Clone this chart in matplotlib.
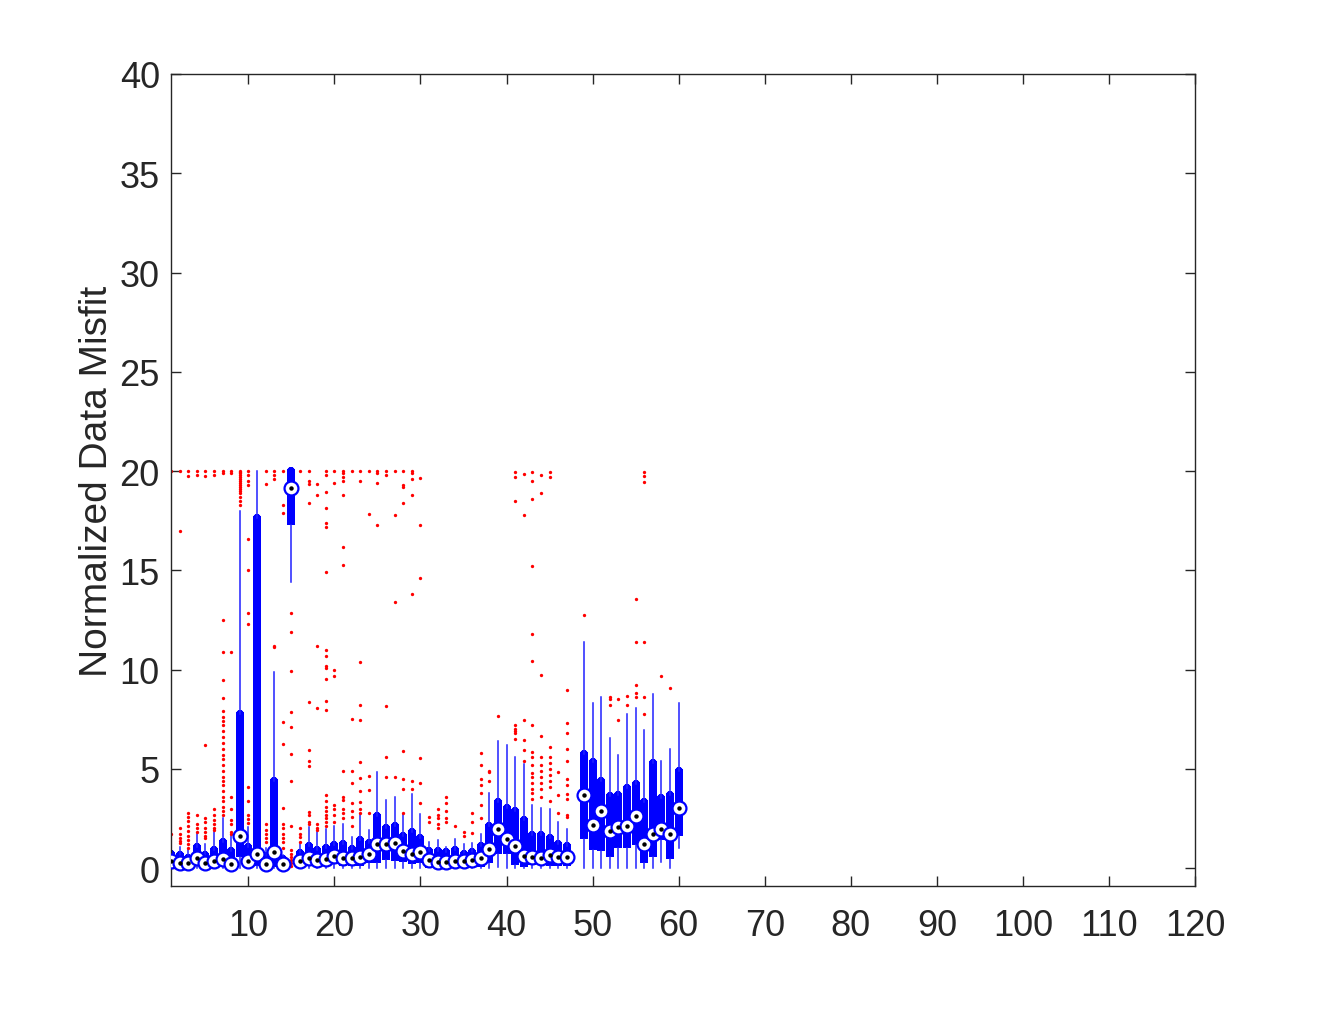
import matplotlib
matplotlib.use('Agg')
import matplotlib.pyplot as plt

plt.rcParams['font.family'] = ['Liberation Sans', 'DejaVu Sans']

# Box statistics (position 48 has no data)
positions = list(range(1, 48)) + list(range(49, 61))

medians = [0.37, 0.28, 0.28, 0.52, 0.25, 0.37, 0.45, 0.23, 1.60, 0.37,
           0.69, 0.23, 0.83, 0.23, 19.15, 0.37, 0.53, 0.41, 0.47, 0.62,
           0.52, 0.52, 0.57, 0.73, 1.20, 1.20, 1.29, 0.87, 0.70, 0.82,
           0.42, 0.32, 0.32, 0.37, 0.34, 0.39, 0.52, 0.96, 1.96, 1.49,
           1.12, 0.62, 0.57, 0.49, 0.67, 0.57, 0.57,
           3.69, 2.18, 2.88, 1.86, 2.09, 2.14, 2.63, 1.21, 1.74, 1.96, 1.74, 3.02]
q1 = [0.08, 0.05, 0.05, 0.10, 0.03, 0.08, 0.10, 0.03, 0.55, 0.10,
      0.10, 0.03, 0.05, 0.03, 17.28, 0.10, 0.12, 0.08, 0.10, 0.20,
      0.10, 0.12, 0.12, 0.25, 0.28, 0.42, 0.37, 0.32, 0.20, 0.28,
      0.03, 0.00, 0.02, 0.06, 0.06, 0.08, 0.08, 0.25, 0.70, 0.70,
      0.15, 0.07, 0.17, 0.20, 0.11, 0.11, 0.10,
      1.46, 0.92, 0.87, 0.58, 1.02, 0.99, 1.16, 0.28, 0.58, 1.42, 0.45, 1.62]
q3 = [0.70, 0.65, 0.50, 1.05, 0.65, 0.92, 1.30, 0.88, 7.75, 1.07,
      17.65, 0.60, 4.37, 0.45, 20.0, 0.75, 1.10, 0.92, 1.00, 1.17,
      1.20, 0.95, 1.40, 1.25, 2.63, 2.00, 2.13, 1.60, 1.83, 1.54,
      0.87, 0.84, 0.79, 0.90, 0.70, 0.79, 1.13, 2.10, 3.35, 3.03,
      2.87, 2.40, 1.66, 1.69, 1.51, 1.21, 1.09,
      5.74, 5.35, 4.38, 3.64, 3.66, 4.04, 4.23, 3.32, 5.29, 3.53, 3.66, 4.87]
whisker_lo = [0.0] * 14 + [14.4] + [0.0] * 23 + [0.07, 0.03] + [0.0] * 7 + \
             [0.03, 0.0, 0.0, 0.0, 0.0, 0.0, 0.0, 0.0, 0.0, 0.3, 0.0, 0.99]
whisker_hi = [1.2, 1.05, 0.9, 1.7, 1.2, 1.8, 2.5, 1.65, 18.0, 2.05,
              20.0, 1.0, 9.9, 0.65, 20.0, 1.2, 2.05, 1.8, 1.95, 2.1,
              2.2, 1.55, 2.67, 1.93, 4.85, 3.42, 3.6, 2.72, 3.73, 2.72,
              1.33, 1.4, 1.07, 1.45, 1.2, 1.25, 1.7, 3.78, 6.42, 6.2,
              5.62, 5.24, 3.17, 3.05, 2.97, 2.3, 1.96,
              11.4, 8.31, 8.64, 6.56, 5.72, 7.76, 8.04, 6.96, 8.77, 5.42, 6.0, 8.34]

outliers = [
    [1.7, 20.0],
    [2.0, 1.7, 1.5, 1.35, 1.25, 17.0, 20.0],
    [2.8, 2.6, 2.35, 2.1, 1.85, 1.6, 1.4, 1.2, 1.0, 20.0, 19.75],
    [2.7, 2.2, 2.0, 1.8, 20.0, 19.8],
    [2.5, 2.3, 2.0, 1.8, 1.6, 1.5, 6.2, 20.0, 19.75],
    [3.0, 2.7, 2.4, 2.2, 2.0, 1.9, 20.0, 19.8],
    [12.5, 10.9, 9.5, 8.55, 7.9, 7.6, 7.4, 7.2, 6.9, 6.6, 6.3, 6.0, 5.7, 5.5,
     5.2, 4.9, 4.6, 4.4, 4.2, 3.9, 3.6, 3.4, 3.1, 2.9, 2.7, 20.0, 19.9],
    [10.9, 3.6, 3.0, 2.4, 2.2, 1.8, 1.7, 20.0, 19.9],
    [20.0, 19.95, 19.9, 19.8, 19.7, 19.6, 19.5, 19.4, 19.3, 19.2, 19.1, 19.0,
     18.9, 18.7, 18.5, 18.3],
    [4.1, 3.4, 2.7, 2.45, 2.25, 16.6, 15.0, 12.85, 12.3, 20.0, 19.8, 19.5, 19.3],
    [],
    [2.2, 1.9, 1.7, 1.5, 1.3, 19.35, 20.0],
    [11.2, 11.15, 20.0, 19.8, 19.6],
    [3.05, 2.2, 2.0, 1.7, 1.5, 1.3, 1.0, 6.25, 7.35, 17.9, 18.3, 20.0],
    [12.85, 11.9, 9.95, 7.85, 7.1, 5.75, 4.4, 2.1, 0.9, 0.7, 0.55, 0.4, 0.25, 0.1],
    [2.0, 1.7, 1.55, 1.3, 20.0],
    [2.85, 2.7, 2.3, 2.2, 5.97, 5.4, 5.15, 8.35, 18.4, 19.35, 19.5, 20.0],
    [2.2, 2.0, 1.9, 8.05, 11.2, 18.8, 19.35],
    [3.7, 3.4, 3.1, 2.9, 2.7, 2.5, 2.3, 2.1, 7.95, 8.4, 9.55, 10.1, 10.2, 10.7,
     11.0, 14.9, 17.2, 17.4, 18.15, 18.95, 19.8, 20.0],
    [3.2, 3.0, 2.7, 2.3, 9.7, 10.0, 19.4, 20.0],
    [2.5, 2.8, 3.0, 3.45, 3.6, 4.9, 15.25, 16.15, 18.8, 19.5, 19.7, 19.9, 20.0],
    [2.1, 2.6, 2.9, 3.3, 4.3, 4.9, 7.5, 20.0],
    [2.8, 3.0, 3.35, 3.9, 4.55, 5.35, 7.45, 8.2, 10.4, 19.5, 20.0],
    [2.8, 3.95, 4.65, 17.85, 20.0],
    [17.3, 19.4, 19.9, 20.0],
    [4.6, 5.6, 8.15, 19.8, 20.0],
    [4.6, 13.4, 17.8, 20.0],
    [2.8, 4.0, 4.5, 5.9, 18.4, 19.2, 19.3, 20.0],
    [4.0, 4.4, 13.8, 18.8, 19.6, 19.9, 20.0],
    [3.3, 4.3, 5.55, 14.6, 17.3, 19.65],
    [2.55, 2.3],
    [3.0, 2.7, 2.5, 2.2, 2.0],
    [3.6, 3.3, 2.9, 2.5, 2.3],
    [2.1],
    [1.8, 1.6],
    [2.8, 2.3, 1.75],
    [5.8, 5.2, 4.5, 4.2, 3.8, 3.2, 2.5],
    [4.9, 4.85, 4.4],
    [7.64],
    [],
    [7.2, 7.0, 6.9, 6.8, 6.5, 18.5, 19.7, 19.95],
    [7.45, 6.46, 5.94, 5.4, 17.8, 19.85],
    [11.8, 10.45, 15.2, 18.6, 19.5, 19.95, 7.23, 5.85, 5.6, 5.2, 4.8, 4.6, 4.3,
     4.0, 3.8, 3.5],
    [9.75, 6.67, 5.6, 5.2, 4.9, 4.6, 4.3, 4.0, 3.6, 18.9, 19.8],
    [6.08, 5.6, 5.3, 5.0, 4.7, 4.4, 4.1, 3.4, 19.7, 19.95],
    [4.85, 3.7, 2.8],
    [8.98, 7.3, 6.83, 6.0, 5.4, 4.5, 4.2, 3.75, 3.5, 2.7, 2.55],
    [12.75],
    [],
    [],
    [8.6, 8.5, 8.2],
    [8.5, 7.47],
    [8.68, 8.2],
    [13.55, 11.4, 9.2, 8.8, 8.6],
    [11.4, 8.6, 7.76, 19.45, 19.75, 19.95],
    [],
    [9.7],
    [9.07],
    [],
]

x_ticks = [10, 20, 30, 40, 50, 60, 70, 80, 90, 100, 110, 120]
y_ticks = [0, 5, 10, 15, 20, 25, 30, 35, 40]

stats = []
for i in range(len(positions)):
    stats.append(dict(med=medians[i], q1=q1[i], q3=q3[i],
                      whislo=whisker_lo[i], whishi=whisker_hi[i],
                      fliers=outliers[i]))

fig = plt.figure(figsize=(13.2, 10.2), dpi=100)
ax = fig.add_axes([0.1295, 0.1304, 0.7758, 0.7961])

# compact style: thick bar for the box, thin whisker line, ring for the median
ax.bxp(stats, positions=positions, widths=0.0, showcaps=False,
       boxprops=dict(color='#0000ff', linewidth=5.6, solid_capstyle='butt'),
       whiskerprops=dict(color='#2020ff', linewidth=1.1),
       medianprops=dict(linewidth=0),
       flierprops=dict(marker='o', markersize=2.4, markerfacecolor='#ff0000',
                       markeredgewidth=0, linestyle='none'),
       manage_ticks=False)
ax.plot(positions, medians, 'o', markersize=10, markerfacecolor='white',
        markeredgecolor='#0000ff', markeredgewidth=1.6, linestyle='none', zorder=4)
ax.plot(positions, medians, 'o', markersize=3.2, color='black',
        markeredgewidth=0, linestyle='none', zorder=5)

ax.set_xlim(1, 120)
ax.set_ylim(-0.9, 40)
ax.set_xticks(x_ticks)
ax.set_yticks(y_ticks)
ax.set_ylabel('Normalized Data Misfit', fontsize=28, color='#262626', labelpad=3)
ax.tick_params(direction='in', length=7, width=1, colors='#262626',
               labelsize=26, top=True, right=True)
ax.tick_params(axis='x', pad=16)
ax.tick_params(axis='y', pad=8)
for s in ax.spines.values():
    s.set_color('#262626')
    s.set_linewidth(1)

fig.savefig('out.png', dpi=100)
